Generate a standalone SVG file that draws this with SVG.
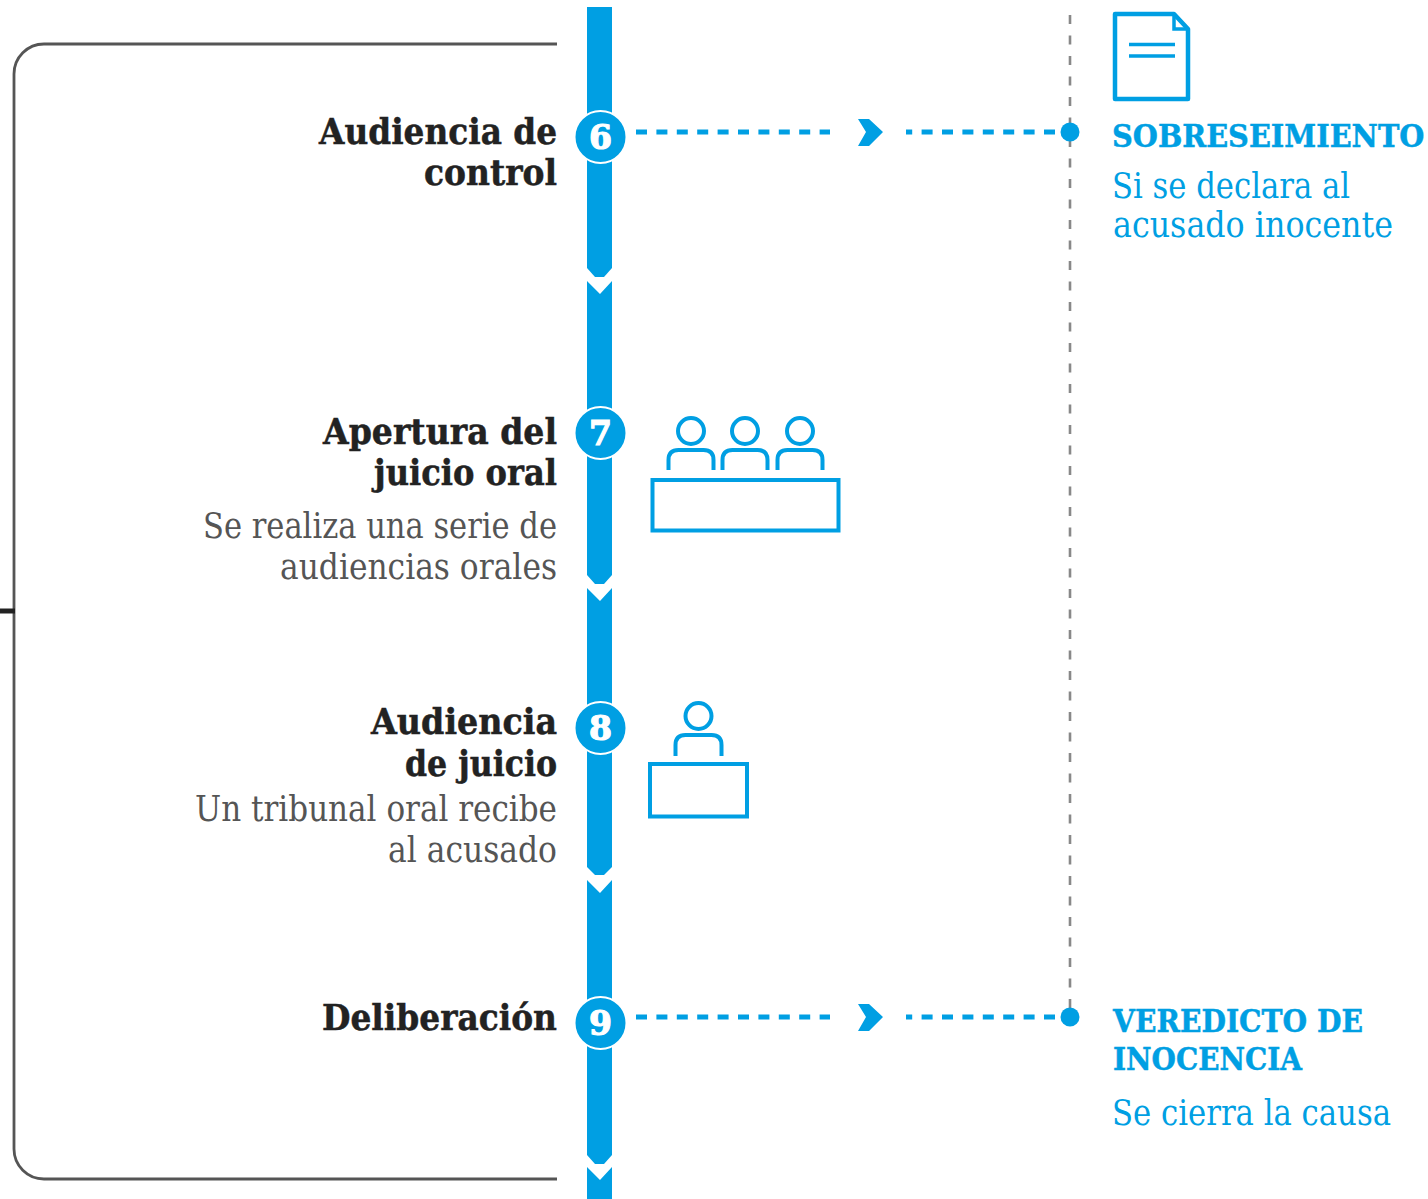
<svg xmlns="http://www.w3.org/2000/svg" width="1428" height="1199" viewBox="0 0 1428 1199">
<style>
.b{fill:#009fe3}
.ol{fill:none;stroke:#009fe3;stroke-width:4}
.box{fill:#fff;stroke:#009fe3;stroke-width:4}
.dash{fill:none;stroke:#009fe3;stroke-width:5;stroke-dasharray:11 9.4}
text{font-family:"DejaVu Serif","Liberation Serif",serif}
.h{font-size:35px;font-weight:700;fill:#222;stroke:#222;stroke-width:.5;text-anchor:end}
.s{font-size:35px;fill:#555;text-anchor:end}
.rh{font-size:32px;font-weight:700;fill:#009fe3;stroke:#009fe3;stroke-width:.5}
.rs{font-size:35px;fill:#009fe3}
.n{font-size:33px;font-weight:700;fill:#fff;stroke:#fff;stroke-width:1.2;text-anchor:middle}
.c{fill:#009fe3;stroke:#fff;stroke-width:2}
</style>
<rect width="1428" height="1199" fill="#fff"/>
<g id="frame">
<path d="M557 44H44A30 30 0 0 0 14 74V1149A30 30 0 0 0 44 1179H557" fill="none" stroke="#555" stroke-width="2.8"/>
<path d="M0 611H15" stroke="#222" stroke-width="5"/>
</g>
<g id="connectors">
<g id="bar" class="b">
<path d="M587 7H612V268L604 277H595L587 268Z"/>
<path d="M587 281L600 294L612 281V575L604 584H595L587 575Z"/>
<path d="M587 588L600 601L612 588V867L604 875H595L587 867Z"/>
<path d="M587 880L600 893L612 880V1155L604 1164H595L587 1155Z"/>
<path d="M587 1167L600 1180L612 1167V1199H587Z"/>
</g>
<g id="branch-6">
<path class="dash" d="M636 132H830"/>
<path class="b" d="M858 119H869L883 132L869 146H858L866 132Z"/>
<path class="dash" d="M1055 132H906"/>
</g>
<g id="branch-9">
<path class="dash" d="M636 1017H830"/>
<path class="b" d="M858 1004H869L883 1017L869 1031H858L866 1017Z"/>
<path class="dash" d="M1055 1017H906"/>
</g>
<path id="outcome-line" d="M1070 15V1008" fill="none" stroke="#888" stroke-width="2.6" stroke-dasharray="9 11.5"/>
<circle class="b" cx="1070" cy="132" r="9.5"/>
<circle class="b" cx="1070" cy="1017" r="9.5"/>
</g>
<g id="node-6">
<circle class="c" cx="600.500" cy="137" r="26"/>
<text class="n" x="600.500" y="149">6</text>
<text class="h" x="557" y="144" textLength="238" lengthAdjust="spacingAndGlyphs">Audiencia de</text>
<text class="h" x="557" y="185" textLength="133" lengthAdjust="spacingAndGlyphs">control</text>
</g>
<g id="node-7">
<circle class="c" cx="600.500" cy="433" r="26"/>
<text class="n" x="600.500" y="445">7</text>
<text class="h" x="557" y="444" textLength="234" lengthAdjust="spacingAndGlyphs">Apertura del</text>
<text class="h" x="557" y="485" textLength="183" lengthAdjust="spacingAndGlyphs">juicio oral</text>
<text class="s" x="557" y="538" textLength="354" lengthAdjust="spacingAndGlyphs">Se realiza una serie de</text>
<text class="s" x="557" y="579" textLength="277" lengthAdjust="spacingAndGlyphs">audiencias orales</text>
</g>
<g id="icon-7">
<circle class="ol" cx="691" cy="431" r="13"/>
<circle class="ol" cx="745" cy="431" r="13"/>
<circle class="ol" cx="800" cy="431" r="13"/>
<path class="ol" d="M668.500 470V460Q668.500 450 678.500 450H703.500Q713.500 450 713.500 460V470"/>
<path class="ol" d="M722.500 470V460Q722.500 450 732.500 450H757.500Q767.500 450 767.500 460V470"/>
<path class="ol" d="M777.500 470V460Q777.500 450 787.500 450H812.500Q822.500 450 822.500 460V470"/>
<rect class="box" x="652.500" y="480" width="186" height="50.500"/>
</g>
<g id="node-8">
<circle class="c" cx="600.500" cy="728" r="26"/>
<text class="n" x="600.500" y="740">8</text>
<text class="h" x="557" y="734" textLength="186" lengthAdjust="spacingAndGlyphs">Audiencia</text>
<text class="h" x="557" y="776" textLength="152" lengthAdjust="spacingAndGlyphs">de juicio</text>
<text class="s" x="557" y="821" textLength="362" lengthAdjust="spacingAndGlyphs">Un tribunal oral recibe</text>
<text class="s" x="557" y="862" textLength="169" lengthAdjust="spacingAndGlyphs">al acusado</text>
</g>
<g id="icon-8">
<circle class="ol" cx="698.500" cy="716" r="13"/>
<path class="ol" d="M675.500 756V745Q675.500 735 685.500 735H711.500Q721.500 735 721.500 745V756"/>
<rect class="box" x="650" y="764" width="97" height="52.500"/>
</g>
<g id="node-9">
<circle class="c" cx="600.500" cy="1023" r="26"/>
<text class="n" x="600.500" y="1035">9</text>
<text class="h" x="557" y="1030" textLength="235" lengthAdjust="spacingAndGlyphs">Deliberación</text>
</g>
<g id="outcome-sobreseimiento">
<path class="ol" style="stroke-width:4.500;stroke-linejoin:round" d="M1115 14H1174L1188 29V99H1115Z"/>
<path class="ol" style="stroke-width:3.500" d="M1174 14V29H1188"/>
<path class="ol" style="stroke-width:3.500" d="M1129 44.500H1175M1129 56H1175"/>
<text class="rh" transform="translate(1112 147) scale(.9 1)">SOBRESEIMIENTO</text>
<text class="rs" x="1112" y="198" textLength="238" lengthAdjust="spacingAndGlyphs">Si se declara al</text>
<text class="rs" x="1113" y="237" textLength="280" lengthAdjust="spacingAndGlyphs">acusado inocente</text>
</g>
<g id="outcome-veredicto">
<text class="rh" x="1113" y="1032" textLength="250" lengthAdjust="spacingAndGlyphs">VEREDICTO DE</text>
<text class="rh" x="1113" y="1070" textLength="189" lengthAdjust="spacingAndGlyphs">INOCENCIA</text>
<text class="rs" x="1112" y="1125" textLength="279" lengthAdjust="spacingAndGlyphs">Se cierra la causa</text>
</g>
</svg>
